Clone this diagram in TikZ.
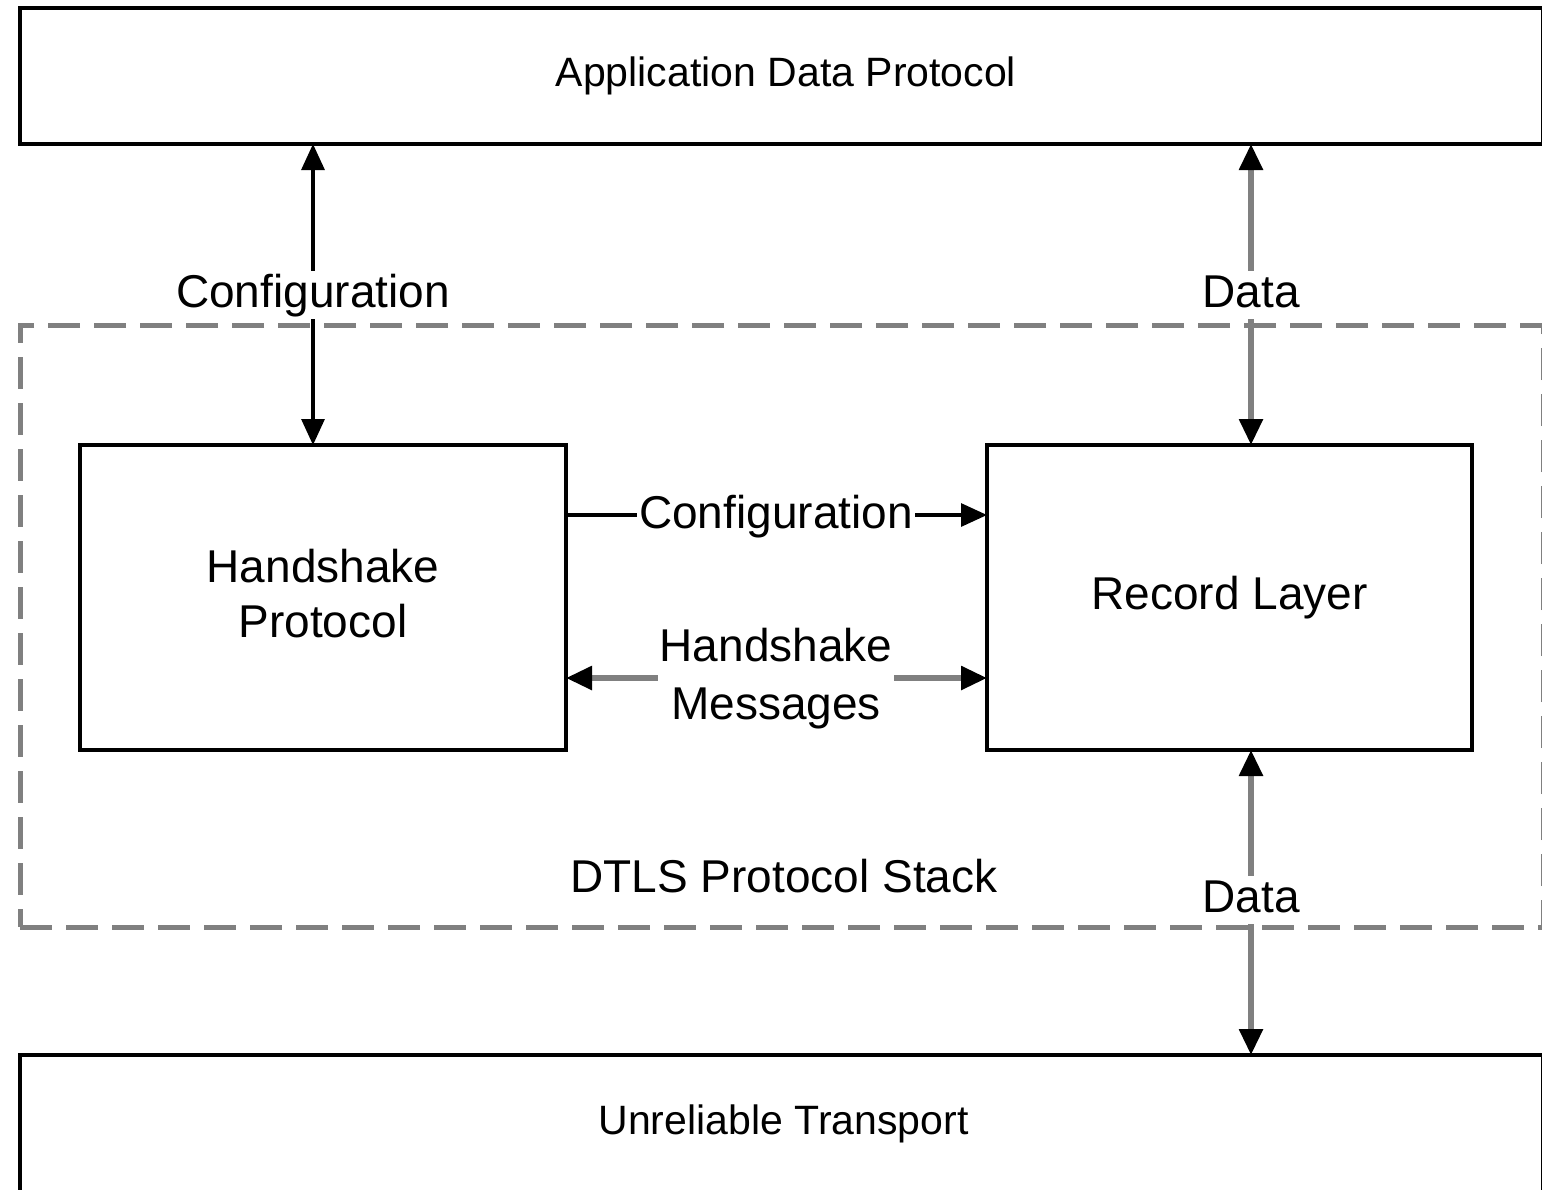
\documentclass[tikz,border=0pt]{standalone}
\usepackage{fontspec}
\setmainfont{Liberation Sans}
\usetikzlibrary{arrows.meta}
\begin{document}
\begin{tikzpicture}[x=0.5pt,y=-0.5pt,
  every node/.style={inner sep=0pt, outer sep=0pt},
  mainfont/.style={font=\fontsize{23}{27.5}\selectfont},
  layerfont/.style={font=\fontsize{20.5}{24}\selectfont},
  layerbox/.style={draw=black, line width=1.8pt, fill=white},
  blockbox/.style={draw=black, line width=1.6pt, fill=white, mainfont, align=center},
  stackbox/.style={draw=black!50, line width=2.5pt, dash pattern=on 16pt off 7pt},
  tip/.style={-{Triangle[length=13pt,width=11.5pt,color=black]}},
  twotip/.style={{Triangle[length=13pt,width=11.5pt,color=black]}-{Triangle[length=13pt,width=11.5pt,color=black]}},
  cfgline/.style={draw=black, line width=1.6pt},
  dataline/.style={draw=black!50, line width=2.8pt},
  lbl/.style={fill=white, mainfont, inner xsep=1pt, inner ysep=1pt, text height=17pt, text depth=5pt},
]
% canvas
\useasboundingbox[fill=white] (0,0) rectangle (1542,1189);

% outer dashed frame of the DTLS stack
\node[stackbox, minimum width=761.5pt, minimum height=301pt] (stack) at (781.5,626) {};

% layers above and below
\node[layerbox, minimum width=761.5pt, minimum height=68pt] (app) at (781.5,76) {};
\node[layerbox, minimum width=761.5pt, minimum height=77.5pt] (trans) at (781.5,1132.5) {};
\node[layerfont] (apptxt) at (786,76) {Application Data Protocol};
\node[layerfont] (transtxt) at (783.5,1124) {Unreliable Transport};

% protocol blocks
\node[blockbox, text depth=4pt, minimum width=243pt, minimum height=152.5pt] (hs) at (323,597.5) {Handshake\\Protocol};
\node[blockbox, minimum width=242.5pt, minimum height=152.5pt] (rec) at (1229.5,597.5) {Record Layer};

% connector positions
\coordinate (cx) at (313,0);
\coordinate (dx) at (1251,0);
\coordinate (cy) at (0,515);
\coordinate (hy) at (0,678);

% connectors
\draw[cfgline, twotip] (app.south -| cx) -- (hs.north -| cx);
\draw[dataline, twotip] (app.south -| dx) -- (rec.north -| dx);
\draw[dataline, twotip] (rec.south -| dx) -- (trans.north -| dx);
\draw[cfgline, tip] (hs.east |- cy) -- (rec.west |- cy);
\draw[dataline, twotip] (hs.east |- hy) -- (rec.west |- hy);

% connector labels
\node[lbl] (cfgup) at (313,295) {Configuration};
\node[lbl] (dataup) at (1251,295) {Data};
\node[lbl] (cfgmid) at (776,516) {Configuration};
\node[fill=white, mainfont, align=center, inner sep=1pt, font=\fontsize{23}{29}\selectfont] (hsmsg) at (776,679) {Handshake\\Messages};
\node[lbl] (datadown) at (1251,900) {Data};

% frame caption
\node[mainfont] (stacktxt) at (784,876) {DTLS Protocol Stack};
\end{tikzpicture}
\end{document}
